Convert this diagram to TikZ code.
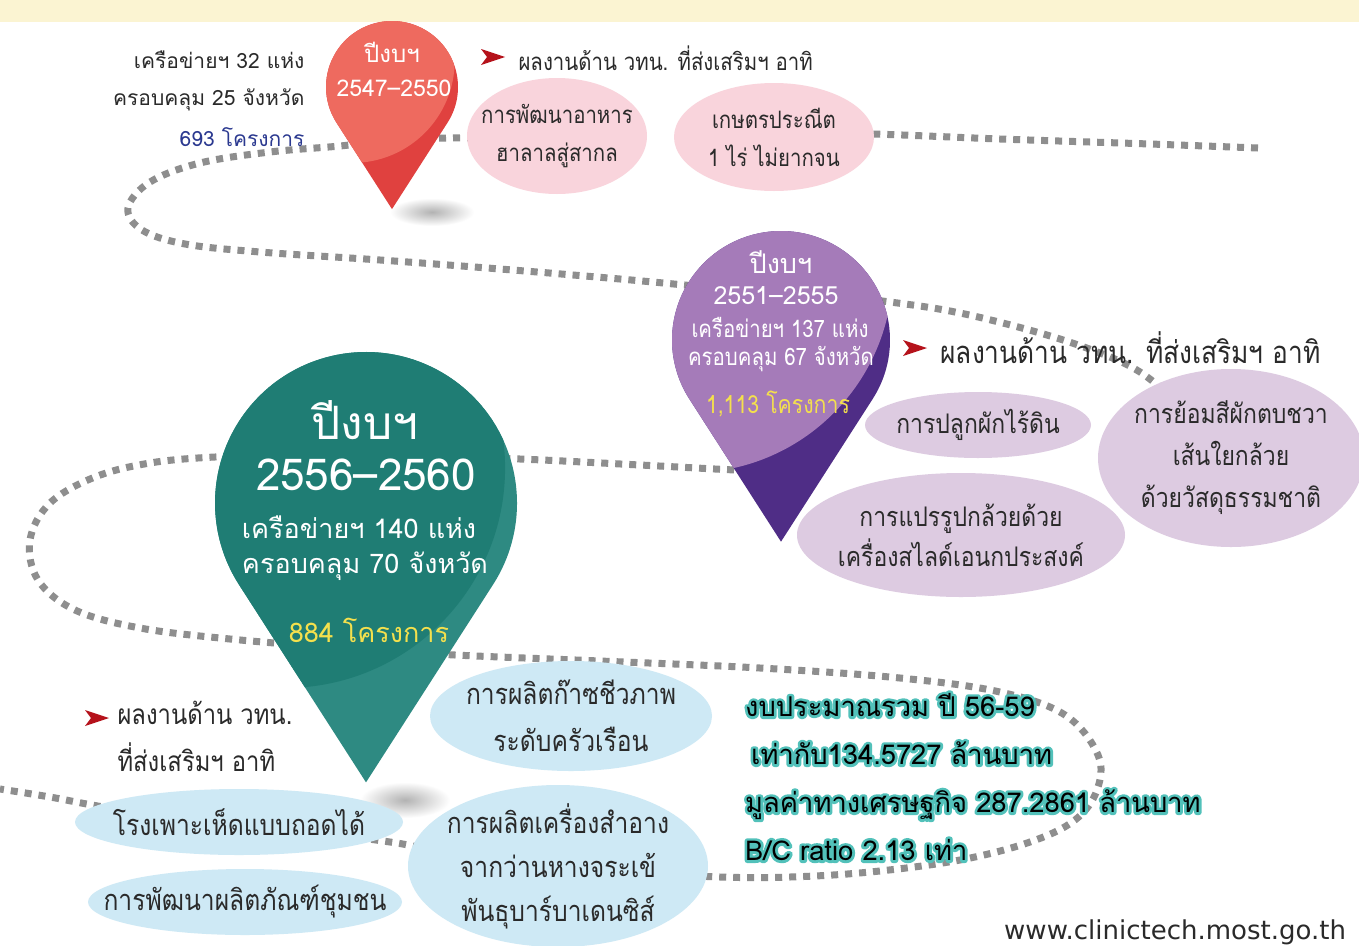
\documentclass[tikz,border=0pt]{standalone}
\usepackage{fontspec}
\usetikzlibrary{shapes.geometric}

\newfontfamily\thai[Script=Thai]{Loma}
\newfontfamily\thainarrow[Script=Thai,FakeStretch=0.85]{Loma}
\newfontfamily\webfont{DejaVu Sans}

\definecolor{bannerfill}{HTML}{FBF4D2}
\definecolor{routegray}{HTML}{8E8E8E}
\definecolor{redlight}{HTML}{EE6A5F}
\definecolor{reddark}{HTML}{E0413F}
\definecolor{purplelight}{HTML}{A57BB9}
\definecolor{purpledark}{HTML}{4F2D86}
\definecolor{greenmain}{HTML}{1F7D74}
\definecolor{greenlight}{HTML}{2E8A82}
\definecolor{pinkfill}{HTML}{F9D4DC}
\definecolor{lavenderfill}{HTML}{DDCBE1}
\definecolor{bluefill}{HTML}{CEE9F5}
\definecolor{countyellow}{HTML}{F4E04D}
\definecolor{countblue}{HTML}{2B3990}
\definecolor{bulletred}{HTML}{B5121B}
\definecolor{inkgray}{HTML}{2A2A2A}

\newcommand{\pinoutline}{(0,-1.85) -- (-32.7:1) arc[start angle=-32.7,end angle=212.7,radius=1] -- cycle}
% teal outline behind the budget lines
\newcommand{\outlineon}{\special{pdf:literal direct 1 Tr 5.5 w 1 j 0.322 0.757 0.729 RG}}
\newcommand{\outlineoff}{\special{pdf:literal direct 0 Tr}}
\newcommand{\tealline}[1]{\rlap{\outlineon#1\outlineoff}#1}

\begin{document}
\begin{tikzpicture}[x=1pt,y=1pt,
  route/.style={draw=routegray,line width=7pt,dash pattern=on 7pt off 7pt},
  pintext/.style={text=white,align=center},
  sidetext/.style={text=inkgray,font=\thai\fontsize{21}{38}\selectfont},
  headtext/.style={text=inkgray,anchor=west},
  blob/.style={ellipse,inner sep=0pt},
  pinkblob/.style={blob,fill=pinkfill},
  lavenderblob/.style={blob,fill=lavenderfill},
  blueblob/.style={blob,fill=bluefill},
  blobtext/.style={text=inkgray,align=center,font=\thainarrow\fontsize{27}{42}\selectfont},
  arrowbullet/.pic={\fill[bulletred] (12,0) -- (-12,8) -- (-6,0) -- (-12,-8) -- cycle;}
]
\useasboundingbox (0,0) rectangle (1359,-945);
\fill[white] (0,0) rectangle (1359,-945);

% banner
\fill[bannerfill] (0,0) rectangle (1359,-22);

% shadows under the pins
\shade[inner color=black!30,outer color=white] (432,-212) ellipse[x radius=42,y radius=14];
\shade[inner color=black!30,outer color=white] (405,-800) ellipse[x radius=45,y radius=18];

% route
\draw[route] plot[smooth,tension=0.6] coordinates {(1258,-148) (1150,-144) (1000,-139) (870,-134) (800,-135)};
\draw[route] plot[smooth,tension=0.6] coordinates {(600,-137) (520,-138) (450,-138) (392,-140) (340,-146) (270,-152) (200,-163) (150,-182) (128,-208) (142,-230) (185,-244) (260,-252) (380,-260) (500,-269) (620,-279) (720,-288) (800,-292) (890,-302) (960,-313) (1040,-333) (1100,-353) (1140,-372) (1175,-400)};
\draw[route] plot[smooth,tension=0.6] coordinates {(790,-472) (735,-470) (640,-465) (520,-459) (420,-456) (300,-455) (215,-457) (150,-463) (95,-477) (50,-503) (30,-540) (38,-580) (75,-610) (140,-628) (230,-639) (340,-648) (455,-655) (600,-661) (760,-668) (900,-678) (1000,-692) (1065,-715) (1098,-755) (1097,-790) (1075,-820) (1030,-842) (960,-860) (870,-872) (790,-877) (720,-877) (640,-872) (560,-862) (470,-852) (420,-847) (390,-842) (300,-830) (200,-820) (110,-808) (50,-797) (0,-789)};

% red pin 2547-2550
\begin{scope}[shift={(392,-87)},scale=66]
  \fill[reddark] \pinoutline;
  \clip \pinoutline;
  \fill[redlight] (-0.6,0.4) circle[radius=1.55];
\end{scope}
\node[pintext,font=\thai\fontsize{24}{24}\selectfont] (redyear) at (392,-52) {ปีงบฯ};
\node[pintext,font=\thai\fontsize{23}{23}\selectfont] (redspan) at (394,-88) {2547–2550};

\node[sidetext,anchor=east] (redlinks) at (308,-60) {เครือข่ายฯ 32 แห่ง};
\node[sidetext,anchor=east] (redcover) at (308,-100) {ครอบคลุม 25 จังหวัด};
\node[sidetext,anchor=east,text=countblue] (redcount) at (308,-137) {693 โครงการ};

\pic at (493,-57) {arrowbullet};
\node[headtext,font=\thainarrow\fontsize{24}{24}\selectfont] (redhead) at (515,-58) {ผลงานด้าน วทน. ที่ส่งเสริมฯ อาทิ};

\node[pinkblob,minimum width=180,minimum height=116] (halal) at (557,-136) {};
\node[blobtext,font=\thainarrow\fontsize{24}{38}\selectfont] (halaltext) at (halal) {การพัฒนาอาหาร\\ฮาลาลสู่สากล};
\node[pinkblob,minimum width=200,minimum height=108] (kaset) at (774,-137) {};
\node[blobtext,font=\thainarrow\fontsize{24}{38}\selectfont] (kasettext) at (kaset) {เกษตรประณีต\\1 ไร่ ไม่ยากจน};

% purple pin 2551-2555
\begin{scope}[shift={(781,-340)},scale=109]
  \fill[purpledark] \pinoutline;
  \clip \pinoutline;
  \fill[purplelight] (-0.835,0.642) circle[radius=1.86];
\end{scope}
\node[pintext,font=\thai\fontsize{27}{27}\selectfont] (purpleyear) at (781,-262) {ปีงบฯ};
\node[pintext,font=\thai\fontsize{25}{25}\selectfont] (purplespan) at (776,-296) {2551–2555};
\node[pintext,font=\thainarrow\fontsize{24}{24}\selectfont] (purplelinks) at (780,-327) {เครือข่ายฯ 137 แห่ง};
\node[pintext,font=\thainarrow\fontsize{24}{24}\selectfont] (purplecover) at (781,-359) {ครอบคลุม 67 จังหวัด};
\node[pintext,text=countyellow,font=\thainarrow\fontsize{25}{25}\selectfont] (purplecount) at (778,-404) {1,113 โครงการ};

\pic at (915,-348) {arrowbullet};
\node[headtext,font=\thainarrow\fontsize{31}{31}\selectfont] (purplehead) at (937,-348) {ผลงานด้าน วทน. ที่ส่งเสริมฯ อาทิ};

\node[lavenderblob,minimum width=226,minimum height=66] (hydro) at (978,-425) {};
\node[blobtext] (hydrotext) at (hydro) {การปลูกผักไร้ดิน};
\node[lavenderblob,minimum width=266,minimum height=178] (dye) at (1231,-458) {};
\node[blobtext] (dyetext) at (dye) {การย้อมสีผักตบชวา\\เส้นใยกล้วย\\ด้วยวัสดุธรรมชาติ};
\node[lavenderblob,minimum width=328,minimum height=124] (banana) at (961,-535) {};
\node[blobtext,font=\thainarrow\fontsize{27}{40}\selectfont] (bananatext) at (banana) {การแปรรูปกล้วยด้วย\\เครื่องสไลด์เอนกประสงค์};

% green pin 2556-2560
\begin{scope}[shift={(366,-503)},scale=151]
  \fill[greenlight] \pinoutline;
  \clip \pinoutline;
  \fill[greenmain] (-0.536,0.232) circle[radius=1.457];
\end{scope}
\node[pintext,font=\thai\fontsize{46}{46}\selectfont] (greenyear) at (365,-420) {ปีงบฯ};
\node[pintext,font=\thai\fontsize{44}{44}\selectfont] (greenspan) at (366,-475) {2556–2560};
\node[pintext,font=\thai\fontsize{27}{27}\selectfont] (greenlinks) at (359,-527) {เครือข่ายฯ 140 แห่ง};
\node[pintext,font=\thai\fontsize{27}{27}\selectfont] (greencover) at (365,-566) {ครอบคลุม 70 จังหวัด};
\node[pintext,text=countyellow,font=\thai\fontsize{27}{27}\selectfont] (greencount) at (369,-630) {884 โครงการ};

\pic at (97,-718) {arrowbullet};
\node[headtext,align=left,anchor=north west,font=\thainarrow\fontsize{28}{47}\selectfont] (greenhead) at (114,-698) {ผลงานด้าน วทน.\\ที่ส่งเสริมฯ อาทิ};

\node[blueblob,minimum width=282,minimum height=110] (biogas) at (571,-716) {};
\node[blobtext,font=\thainarrow\fontsize{29}{47}\selectfont] (biogastext) at (biogas) {การผลิตก๊าซชีวภาพ\\ระดับครัวเรือน};
\node[blueblob,minimum width=328,minimum height=66] (mushroom) at (239,-822) {};
\node[blobtext,font=\thainarrow\fontsize{29}{44}\selectfont] (mushroomtext) at (mushroom) {โรงเพาะเห็ดแบบถอดได้};
\node[blueblob,minimum width=314,minimum height=66] (product) at (245,-902) {};
\node[blobtext,font=\thainarrow\fontsize{29}{44}\selectfont] (producttext) at (product) {การพัฒนาผลิตภัณฑ์ชุมชน};
\node[blueblob,minimum width=300,minimum height=162] (aloe) at (558,-866) {};
\node[blobtext,font=\thainarrow\fontsize{29}{44}\selectfont] (aloetext) at (aloe) {การผลิตเครื่องสำอาง\\จากว่านหางจระเข้\\พันธุบาร์บาเดนซิส์};

% budget summary
\node[anchor=north west,align=left,inner sep=0pt,text=black,font=\thai\fontsize{27.3}{48}\selectfont] (budget) at (745,-693)
  {\tealline{งบประมาณรวม ปี 56-59}\\
   \hspace{6pt}\tealline{เท่ากับ134.5727 ล้านบาท}\\
   \tealline{มูลค่าทางเศรษฐกิจ 287.2861 ล้านบาท}\\
   \tealline{B/C ratio 2.13 เท่า}};

\node[anchor=west,inner sep=0pt,text=inkgray,font=\webfont\fontsize{26}{26}\selectfont] (url) at (1004,-932) {www.clinictech.most.go.th};
\end{tikzpicture}
\end{document}
